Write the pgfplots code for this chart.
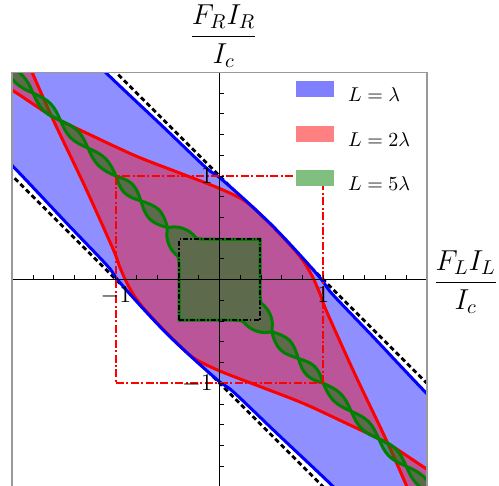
\documentclass[border=0pt]{standalone}
\usepackage{amsmath}
\usepackage{pgfplots}
\pgfplotsset{compat=1.18}
\definecolor{dgreen}{rgb}{0,0.5,0}
\begin{document}
\begin{tikzpicture}
\begin{axis}[
  name=main,
  scale only axis,
  width=207pt, height=207pt,
  xmin=-2, xmax=2, ymin=-2, ymax=2,
  axis lines=middle,
  axis line style={-, black, line width=0.6pt},
  every inner x axis line/.append style={-},
  every inner y axis line/.append style={-},
  axis on top,
  xtick={-1,1}, ytick={-1,1},
  minor xtick={-1.8,-1.6,-1.4,-1.2,-0.8,-0.6,-0.4,-0.2,0.2,0.4,0.6,0.8,1.2,1.4,1.6,1.8},
  minor ytick={-1.8,-1.6,-1.4,-1.2,-0.8,-0.6,-0.4,-0.2,0.2,0.4,0.6,0.8,1.2,1.4,1.6,1.8},
  tick align=inside,
  major tick length=2.2pt, minor tick length=2.2pt,
  tick style={black, line width=0.5pt},
  tick label style={font=\fontsize{12.5}{14}\selectfont},
  xlabel={$\dfrac{F_LI_L}{I_c}$},
  ylabel={$\dfrac{F_RI_R}{I_c}$},
  every axis x label/.style={at={(axis cs:2,0)}, anchor=base west, yshift=-5pt, inner sep=3pt, font=\fontsize{14}{16}\selectfont},
  every axis y label/.style={at={(axis cs:0,2)}, anchor=south, xshift=2pt, inner sep=2pt, font=\fontsize{14}{16}\selectfont},
  legend style={at={(axis cs:0.737,1.92)}, anchor=north west, draw=none, fill=none, inner sep=0pt,
    font=\fontsize{10}{12}\selectfont, row sep=8.5pt,
    /tikz/every odd column/.append style={column sep=5pt}},
  legend cell align=left,
  legend image code/.code={\fill[#1] (0pt,-0.5pt) rectangle (18.8pt,7.5pt);},
]
% black dashed lines (under the band)
\addplot[forget plot, black, line width=1.4pt, dash pattern=on 2.4pt off 1.6pt] coordinates {(-3,4) (4,-3)};
\addplot[forget plot, black, line width=1.4pt, dash pattern=on 2.4pt off 1.6pt] coordinates {(-4,3) (3,-4)};
% blue band fill
\addplot[forget plot, smooth, draw=none, fill=blue!44] coordinates {
 (-1.6,2.5) (-1.1,2.0) (-0.55,1.48) (-0.136,1.085) (0,0.985) (0.25,0.765) (0.515,0.515) (0.765,0.25) (0.985,0) (1.085,-0.136) (1.48,-0.55) (2.0,-1.1) (2.5,-1.6)
 (1.6,-2.5) (1.1,-2.0) (0.55,-1.48) (0.136,-1.085) (0,-0.985) (-0.25,-0.765) (-0.515,-0.515) (-0.765,-0.25) (-0.985,0) (-1.085,0.136) (-1.48,0.55) (-2.0,1.1) (-2.5,1.6)};
% red region
\addplot[forget plot, smooth, draw=red, line width=1.5pt, fill=red, fill opacity=0.4] coordinates {
 (-2.5,2.12) (-2.017,1.838) (-1.62,1.58) (-1.2,1.375) (-0.8,1.19) (-0.4,1.035) (0,0.88) (0.25,0.755) (0.45,0.575) (0.62,0.40) (0.75,0.255) (0.84,0.13) (0.91,0.0) (0.97,-0.14) (1.03,-0.3) (1.3,-0.9) (1.6,-1.53) (1.8,-1.98) (2.0,-2.45)
 (2.5,-2.12) (2.017,-1.838) (1.62,-1.58) (1.2,-1.375) (0.8,-1.19) (0.4,-1.035) (0,-0.88) (-0.25,-0.755) (-0.45,-0.575) (-0.62,-0.40) (-0.75,-0.255) (-0.84,-0.13) (-0.91,0.0) (-0.97,0.14) (-1.03,0.3) (-1.3,0.9) (-1.6,1.53) (-1.8,1.98) (-2.0,2.45)};
% blue boundary lines
\addplot[forget plot, smooth, blue, line width=1.5pt] coordinates {
 (-1.6,2.5) (-1.1,2.0) (-0.55,1.48) (-0.136,1.085) (0,0.985) (0.25,0.765) (0.515,0.515) (0.765,0.25) (0.985,0) (1.085,-0.136) (1.48,-0.55) (2.0,-1.1) (2.5,-1.6)};
\addplot[forget plot, smooth, blue, line width=1.5pt] coordinates {
 (1.6,-2.5) (1.1,-2.0) (0.55,-1.48) (0.136,-1.085) (0,-0.985) (-0.25,-0.765) (-0.515,-0.515) (-0.765,-0.25) (-0.985,0) (-1.085,0.136) (-1.48,0.55) (-2.0,1.1) (-2.5,1.6)};
% green region
\addplot[forget plot, smooth, tension=0.6, draw=dgreen, line width=1.5pt, fill=dgreen, fill opacity=0.5] coordinates {
 (-2.33,2.33) (-2.2925,2.2445) (-2.2355,2.1635) (-2.1545,2.1005) (-2.065,2.065) (-1.9755,2.0295) (-1.8985,1.9665) (-1.8425,1.8895) (-1.80,1.80)
 (-1.7575,1.7105) (-1.7015,1.6335) (-1.6245,1.5775) (-1.535,1.535) (-1.4455,1.4925) (-1.3685,1.4365) (-1.3125,1.3595) (-1.27,1.27)
 (-1.226,1.179) (-1.169,1.101) (-1.091,1.044) (-1.0,1.0) (-0.912,0.968) (-0.840,0.920) (-0.792,0.848) (-0.76,0.76)
 (-0.726,0.666) (-0.6775,0.5875) (-0.601,0.537) (-0.505,0.505) (-0.44,0.51) (-0.37,0.50) (-0.30,0.47) (-0.245,0.425) (-0.2,0.395)
 (0.0,0.39) (0.37,0.39) (0.39,0.39) (0.39,0.37) (0.39,0.0)
 (0.395,-0.2) (0.425,-0.245) (0.47,-0.30) (0.50,-0.37) (0.51,-0.44) (0.505,-0.505) (0.537,-0.601) (0.5875,-0.6775) (0.666,-0.726) (0.76,-0.76)
 (0.848,-0.792) (0.920,-0.840) (0.968,-0.912) (1.0,-1.0) (1.044,-1.091) (1.101,-1.169) (1.179,-1.226) (1.27,-1.27)
 (1.3595,-1.3125) (1.4365,-1.3685) (1.4925,-1.4455) (1.535,-1.535) (1.5775,-1.6245) (1.6335,-1.7015) (1.7105,-1.7575) (1.80,-1.80)
 (1.8895,-1.8425) (1.9665,-1.8985) (2.0295,-1.9755) (2.065,-2.065) (2.1005,-2.1545) (2.1635,-2.2355) (2.2445,-2.2925) (2.33,-2.33)
 (2.2925,-2.2445) (2.2355,-2.1635) (2.1545,-2.1005) (2.065,-2.065) (1.9755,-2.0295) (1.8985,-1.9665) (1.8425,-1.8895) (1.80,-1.80)
 (1.7575,-1.7105) (1.7015,-1.6335) (1.6245,-1.5775) (1.535,-1.535) (1.4455,-1.4925) (1.3685,-1.4365) (1.3125,-1.3595) (1.27,-1.27)
 (1.226,-1.179) (1.169,-1.101) (1.091,-1.044) (1.0,-1.0) (0.912,-0.968) (0.840,-0.920) (0.792,-0.848) (0.76,-0.76)
 (0.726,-0.666) (0.6775,-0.5875) (0.601,-0.537) (0.505,-0.505) (0.44,-0.51) (0.37,-0.50) (0.30,-0.47) (0.245,-0.425) (0.2,-0.395)
 (0.0,-0.39) (-0.37,-0.39) (-0.39,-0.39) (-0.39,-0.37) (-0.39,0.0)
 (-0.395,0.2) (-0.425,0.245) (-0.47,0.30) (-0.50,0.37) (-0.51,0.44) (-0.505,0.505) (-0.537,0.601) (-0.5875,0.6775) (-0.666,0.726) (-0.76,0.76)
 (-0.848,0.792) (-0.920,0.840) (-0.968,0.912) (-1.0,1.0) (-1.044,1.091) (-1.101,1.169) (-1.179,1.226) (-1.27,1.27)
 (-1.3595,1.3125) (-1.4365,1.3685) (-1.4925,1.4455) (-1.535,1.535) (-1.5775,1.6245) (-1.6335,1.7015) (-1.7105,1.7575) (-1.80,1.80)
 (-1.8895,1.8425) (-1.9665,1.8985) (-2.0295,1.9755) (-2.065,2.065) (-2.1005,2.1545) (-2.1635,2.2355) (-2.2445,2.2925) (-2.33,2.33)};
% dash-dot squares
\addplot[forget plot, draw=red, line width=1pt, dash pattern=on 4pt off 1.2pt on 1pt off 1.2pt] coordinates {(-1,-1) (1,-1) (1,1) (-1,1) (-1,-1)};
\addplot[forget plot, draw=black, line width=0.9pt, dash pattern=on 2.5pt off 1pt on 0.8pt off 1pt] coordinates {(-0.39,-0.39) (0.39,-0.39) (0.39,0.39) (-0.39,0.39) (-0.39,-0.39)};
% legend
\addlegendimage{fill=blue!50, draw=none}
\addlegendentry{$L=\lambda$}
\addlegendimage{fill=red!50, draw=none}
\addlegendentry{$L=2\lambda$}
\addlegendimage{fill=dgreen!50, draw=none}
\addlegendentry{$L=5\lambda$}
\end{axis}
\draw[gray!80, line width=0.9pt] (main.south west) rectangle (main.north east);
\pgfresetboundingbox
\path[use as bounding box] ([xshift=-6.15pt, yshift=0.5pt]main.south west) rectangle ([xshift=36pt, yshift=36.15pt]main.north east);
\end{tikzpicture}
\end{document}
